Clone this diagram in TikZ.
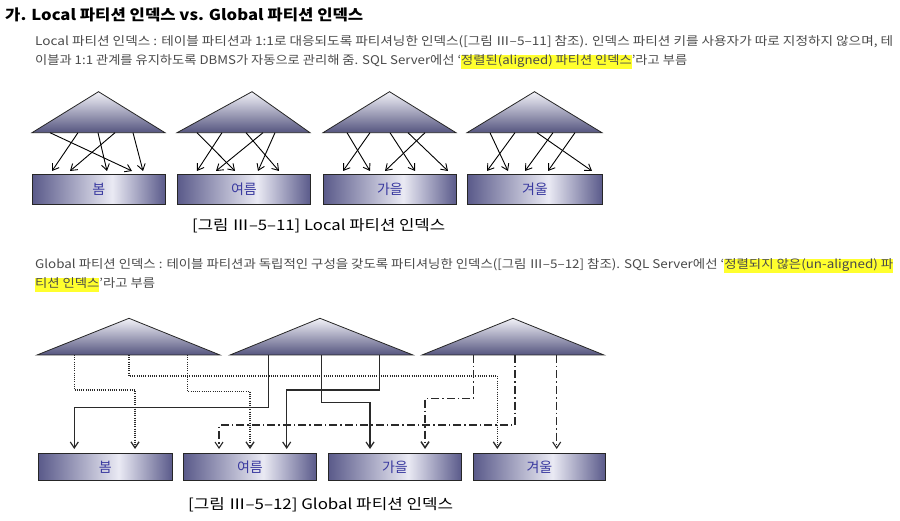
\documentclass[tikz,border=0pt]{standalone}
\usepackage{fontspec}
\setmainfont{Noto Sans CJK KR}
\usetikzlibrary{arrows.meta,calc}
\definecolor{txtgray}{HTML}{4A4A4A}
\definecolor{hlyellow}{HTML}{FFFF2E}
\definecolor{tridark}{HTML}{55557F}
\definecolor{trilight}{HTML}{F2F2F8}
\definecolor{boxdark}{HTML}{5A5A8A}
\definecolor{boxlight}{HTML}{EAEAF4}
\definecolor{lblblue}{HTML}{3A3AA0}
\definecolor{lnk}{HTML}{2A2A2A}
\pgfdeclarehorizontalshading{boxshade}{100bp}{color(0bp)=(boxdark); color(25bp)=(boxdark); color(55bp)=(boxlight); color(75bp)=(boxdark); color(100bp)=(boxdark)}
\newcommand{\hlmark}[1]{{\setlength{\fboxsep}{0pt}\colorbox{hlyellow}{\strut #1}}}
\newcommand{\fitline}[2]{\resizebox{#1}{\height}{#2}}
\begin{document}
\begin{tikzpicture}[x=1pt,y=-1pt,
  tri/.style={draw=black!85, line width=0.8pt, top color=trilight, bottom color=tridark},
  part/.style={draw=black!85, line width=0.8pt, shading=boxshade, anchor=north west, inner sep=0pt,
     text=lblblue, font=\fontsize{14}{16}\selectfont},
  larr/.style={draw=black, line width=0.9pt, -{Straight Barb[length=6pt,width=8pt]}},
  garr/.style={draw=lnk, -{Straight Barb[length=6pt,width=8pt]}},
  solidln/.style={garr, line width=1.2pt},
  dotln/.style={garr, line width=1.3pt, dash pattern=on 1pt off 1.2pt},
  dashdotln/.style={garr, line width=1.1pt, dash pattern=on 8pt off 3pt on 1.5pt off 3pt},
  para/.style={anchor=base west, inner sep=0pt, text=txtgray, font=\fontsize{12}{14}\selectfont},
  caption/.style={anchor=base west, inner sep=0pt, text=black, font=\fontsize{14.5}{17}\selectfont},
]
\useasboundingbox (0,0) rectangle (900,521);
\fill[white] (0,0) rectangle (900,521);

% ---------- texts ----------
\node[anchor=base west, inner sep=0pt, font=\bfseries\fontsize{15}{18}\selectfont] (title) at (5,21)
  {\fitline{358pt}{가. Local 파티션 인덱스 vs. Global 파티션 인덱스}};
\node[para] (lp1) at (35,46)
  {\fitline{858pt}{Local 파티션 인덱스 : 테이블 파티션과 1:1로 대응되도록 파티셔닝한 인덱스([그림 Ⅲ–5–11] 참조). 인덱스 파티션 키를 사용자가 따로 지정하지 않으며, 테}};
\node[para] (lp2) at (35,65)
  {\fitline{652pt}{이블과 1:1 관계를 유지하도록 DBMS가 자동으로 관리해 줌. SQL Server에선 `\hlmark{정렬된(aligned) 파티션 인덱스}'라고 부름}};
\node[caption] (cap1) at (192,231)
  {\fitline{253pt}{[그림 Ⅲ–5–11] Local 파티션 인덱스}};
\node[para] (gp1) at (35,269)
  {\fitline{858pt}{Global 파티션 인덱스 : 테이블 파티션과 독립적인 구성을 갖도록 파티셔닝한 인덱스([그림 Ⅲ–5–12] 참조). SQL Server에선 `\hlmark{정렬되지 않은(un-aligned) 파}}};
\node[para] (gp2) at (35,288)
  {\fitline{120pt}{\hlmark{티션 인덱스}'라고 부름}};
\node[caption] (cap2) at (188,509)
  {\fitline{265pt}{[그림 Ⅲ–5–12] Global 파티션 인덱스}};

% ---------- local partition index ----------
\coordinate (tb1) at (32,132.7);
\coordinate (tb2) at (177,132.7);
\coordinate (tb3) at (323,132.7);
\coordinate (tb4) at (467,132.7);
\draw[tri] (tb1) -- (98.5,91.7) -- (165,132.7) -- cycle;
\draw[tri] (tb2) -- (252,91.7) -- (310,132.7) -- cycle;
\draw[tri] (tb3) -- (389.5,91.7) -- (456,132.7) -- cycle;
\draw[tri] (tb4) -- (534.5,91.7) -- (602,132.7) -- cycle;

\node[part, minimum width=133pt, minimum height=30pt] (r1) at (32,174) {봄};
\node[part, minimum width=133pt, minimum height=30pt] (r2) at (177,174) {여름};
\node[part, minimum width=133pt, minimum height=30pt] (r3) at (323,174) {가을};
\node[part, minimum width=135pt, minimum height=30pt] (r4) at (467,174) {겨울};

\newcommand{\localarrow}[4]{\draw[larr] ([xshift=#2pt]#1) -- ([xshift=#4pt,yshift=3pt]#3.north west);}
\localarrow{tb1}{18}{r1}{100}
\localarrow{tb1}{46}{r1}{20}
\localarrow{tb1}{66}{r1}{75}
\localarrow{tb1}{83}{r1}{38}
\localarrow{tb1}{101}{r1}{111}
\localarrow{tb2}{20}{r2}{58}
\localarrow{tb2}{45}{r2}{20}
\localarrow{tb2}{69}{r2}{102}
\localarrow{tb2}{86}{r2}{39}
\localarrow{tb2}{98}{r2}{81}
\localarrow{tb3}{24}{r3}{47}
\localarrow{tb3}{47}{r3}{20}
\localarrow{tb3}{67}{r3}{92}
\localarrow{tb3}{85}{r3}{125}
\localarrow{tb3}{102}{r3}{62}
\localarrow{tb4}{23}{r4}{41}
\localarrow{tb4}{48}{r4}{20}
\localarrow{tb4}{70}{r4}{125}
\localarrow{tb4}{86}{r4}{58}
\localarrow{tb4}{108}{r4}{81}

% ---------- global partition index ----------
\coordinate (gb1) at (37,355);
\coordinate (gb2) at (230,355);
\coordinate (gb3) at (422,355);
\draw[tri] (gb1) -- (129,318.3) -- (220,355) -- cycle;
\draw[tri] (gb2) -- (320,318.3) -- (413,355) -- cycle;
\draw[tri] (gb3) -- (513,318.3) -- (604,355) -- cycle;

\node[part, minimum width=134pt, minimum height=27pt] (rb) at (38,453) {봄};
\node[part, minimum width=133pt, minimum height=27pt] (ry) at (183,453) {여름};
\node[part, minimum width=133pt, minimum height=27pt] (rg) at (328,453) {가을};
\node[part, minimum width=132pt, minimum height=27pt] (rw) at (473,453) {겨울};

% dotted (from first index partition)
\draw[dotln] ([xshift=37.3pt]gb1) -- ++(0,35) -| ([xshift=97pt,yshift=4pt]rb.north west);
\draw[dotln] ([xshift=92pt]gb1) -- ++(0,21) -| ([xshift=24.3pt,yshift=4pt]rw.north west);
\draw[dotln] ([xshift=150.7pt]gb1) -- ++(0,36.7) -| ([xshift=67pt,yshift=4pt]ry.north west);
% solid (from second index partition)
\draw[solidln] ([xshift=38.3pt]gb2) -- ++(0,52.7) -| ([xshift=36.3pt,yshift=4pt]rb.north west);
\draw[solidln] ([xshift=149.3pt]gb2) -- ++(0,35) -| ([xshift=103.7pt,yshift=4pt]ry.north west);
\draw[solidln] ([xshift=91.7pt]gb2) -- ++(0,47.7) -| ([xshift=42pt,yshift=4pt]rg.north west);
% dash-dot (from third index partition)
\draw[dashdotln, line width=1.5pt] ([xshift=51.3pt]gb3) -- ++(0,43.3) -| ([xshift=97pt,yshift=4pt]rg.north west);
\draw[dashdotln] ([xshift=93pt]gb3) -- ++(0,70) -| ([xshift=36pt,yshift=4pt]ry.north west);
\draw[dashdotln] ([xshift=134.7pt]gb3) -- ([xshift=83.7pt,yshift=4pt]rw.north west);
\end{tikzpicture}
\end{document}
